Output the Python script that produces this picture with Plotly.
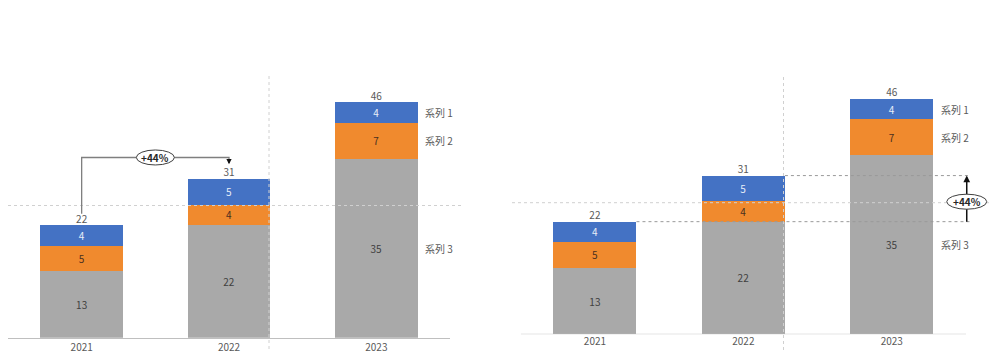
import plotly.graph_objects as go

years = ["2021", "2022", "2023"]
series_names = ["系列 1", "系列 2", "系列 3"]
s1 = [4, 5, 4]
s2 = [5, 4, 7]
s3 = [13, 22, 35]
totals = [a + b + c for a, b, c in zip(s1, s2, s3)]
growth_label = "+44%"

# page body has an 8px margin: work in screen pixels and convert
OX, OY = 8, 8
W, H = 982, 348
FONT = "Noto Sans CJK JP, Noto Sans, sans-serif"
C_BLUE, C_ORANGE, C_GRAY = "#4472C4", "#F08A2E", "#A9A9A9"
TXT = "#595959"
AXIS_C = "#BFBFBF"
xs = list(range(len(years)))
BW = 0.56
PX_PER_UNIT = 5.12
YMAX = 50

# right subplot geometry (screen px); x range extended to host the side marker
R_X0, R_X1 = 520.7, 966.0
R_SLOT = (R_X1 - R_X0) / 3
R_XMAX = 2.65
R_BASE = 334.3
L_BASE = 337.7


def xp(px):
    return (px - OX) / W


def yp(py):
    return 1 - (py - OY) / H


fig = go.Figure()

for k, (xa, ya) in enumerate([("x", "y"), ("x2", "y2")]):
    for vals, col, tcol in [(s3, C_GRAY, "#404040"), (s2, C_ORANGE, "#4a3020"), (s1, C_BLUE, "#E8EEF8")]:
        fig.add_trace(go.Bar(
            x=xs, y=vals, width=BW, marker=dict(color=col, line=dict(width=0)),
            text=[str(v) for v in vals], textposition="inside", insidetextanchor="middle",
            textangle=0,
            textfont=dict(color=tcol, size=10, family=FONT), constraintext="none",
            xaxis=xa, yaxis=ya, showlegend=False, hoverinfo="skip"))
    fig.add_trace(go.Scatter(
        x=xs, y=totals, mode="text", text=[str(t) for t in totals], textposition="top center",
        textfont=dict(color=TXT, size=10, family=FONT), xaxis=xa, yaxis=ya,
        showlegend=False, hoverinfo="skip"))
    # series labels to the right of the last bar
    last = len(years) - 1
    mids = [s3[last] + s2[last] + s1[last] / 2, s3[last] + s2[last] / 2, s3[last] / 2]
    for name, m in zip(series_names, mids):
        fig.add_annotation(x=last + BW / 2 + 0.04, y=m, xref=xa, yref=ya, text=name,
                           showarrow=False, xanchor="left",
                           font=dict(color=TXT, size=10, family=FONT))

axis_common = dict(tickvals=xs, ticktext=years, showgrid=False, zeroline=False,
                   linecolor=AXIS_C, linewidth=1, ticks="",
                   tickfont=dict(color=TXT, size=10, family=FONT))
yaxis_common = dict(range=[0, YMAX], visible=False, showgrid=False, zeroline=False)

fig.update_layout(
    width=W, height=H, margin=dict(l=0, r=0, t=0, b=0), autosize=False,
    paper_bgcolor="white", plot_bgcolor="rgba(0,0,0,0)", barmode="stack",
    xaxis=dict(domain=[xp(8), xp(450)], anchor="y", range=[-0.5, 2.5], showline=True, **axis_common),
    yaxis=dict(domain=[yp(L_BASE), yp(L_BASE - YMAX * PX_PER_UNIT)], anchor="x", **yaxis_common),
    xaxis2=dict(domain=[xp(R_X0), xp(R_X0 + (R_XMAX + 0.5) * R_SLOT)], anchor="y2",
                range=[-0.5, R_XMAX], showline=False, **axis_common),
    yaxis2=dict(domain=[yp(R_BASE), yp(R_BASE - YMAX * PX_PER_UNIT)], anchor="x2", **yaxis_common),
)

shapes = []
guide = dict(color="#D0D0D0", width=1, dash="dot")
# guide lines (paper coordinates)
shapes.append(dict(type="line", xref="paper", yref="paper", x0=xp(269), x1=xp(269), y0=yp(76), y1=yp(350), line=guide, layer="above"))
shapes.append(dict(type="line", xref="paper", yref="paper", x0=xp(8), x1=xp(463), y0=yp(205.5), y1=yp(205.5), line=guide, layer="above"))
shapes.append(dict(type="line", xref="paper", yref="paper", x0=xp(783.5), x1=xp(783.5), y0=yp(77), y1=yp(350), line=guide, layer="above"))
shapes.append(dict(type="line", xref="paper", yref="paper", x0=xp(512), x1=xp(990), y0=yp(202.7), y1=yp(202.7), line=guide, layer="above"))

# right chart baseline (axis line only across the three category slots)
shapes.append(dict(type="line", xref="x2", yref="y2", x0=-0.5, x1=2.5, y0=0, y1=0,
                   line=dict(color=AXIS_C, width=1), layer="above"))

# Left chart: bracket from 2021 total to 2022 total
y_br = max(totals[0], totals[1]) + 4.2
y_start = totals[0] + 2.2
y_end = totals[1] + 3.2
shapes.append(dict(type="path", xref="x", yref="y",
                   path=f"M 0,{y_start} L 0,{y_br} L 1,{y_br} L 1,{y_end}",
                   line=dict(color="#7F7F7F", width=1.3), layer="above"))
shapes.append(dict(type="circle", xref="x", yref="y", xsizemode="pixel", ysizemode="pixel",
                   xanchor=0.5, yanchor=y_br, x0=-19, x1=19, y0=-7.5, y1=7.5,
                   fillcolor="white", line=dict(color="#404040", width=1), layer="above"))
fig.add_annotation(x=0.5, y=y_br, xref="x", yref="y", text=f"<b>{growth_label}</b>", showarrow=False,
                   font=dict(color="#262626", size=10, family=FONT))
fig.add_annotation(x=1, y=y_end - 0.3, xref="x", yref="y", ax=0, ay=-4, text="", showarrow=True,
                   arrowhead=2, arrowsize=0.8, arrowwidth=1.3, arrowcolor="#111111")

# Right chart: reference lines at 2021 and 2022 totals with vertical arrow
x_arrow = 2.505
x_end = 2.53
dot_dark = dict(color="#9A9A9A", width=1, dash="dot")
shapes.append(dict(type="line", xref="x2", yref="y2", x0=1 + BW / 2, x1=x_end,
                   y0=totals[1], y1=totals[1], line=dot_dark, layer="above"))
shapes.append(dict(type="line", xref="x2", yref="y2", x0=0 + BW / 2, x1=x_end,
                   y0=totals[0], y1=totals[0], line=dot_dark, layer="above"))
shapes.append(dict(type="line", xref="x2", yref="y2", x0=x_arrow, x1=x_arrow,
                   y0=totals[0], y1=totals[1] - 0.5,
                   line=dict(color="#111111", width=1.5), layer="above"))
y_mid = (totals[0] + totals[1]) / 2 - 0.6
shapes.append(dict(type="circle", xref="x2", yref="y2", xsizemode="pixel", ysizemode="pixel",
                   xanchor=x_arrow, yanchor=y_mid, x0=-20, x1=20, y0=-7.5, y1=7.5,
                   fillcolor="white", line=dict(color="#404040", width=1), layer="above"))
fig.add_annotation(x=x_arrow, y=y_mid, xref="x2", yref="y2", text=f"<b>{growth_label}</b>",
                   showarrow=False, font=dict(color="#262626", size=10, family=FONT))
fig.add_annotation(x=x_arrow, y=totals[1], xref="x2", yref="y2", ax=0, ay=8, text="",
                   showarrow=True, arrowhead=2, arrowsize=0.9, arrowwidth=1.5, arrowcolor="#111111")

fig.update_layout(shapes=shapes)
fig.write_html("out.html")
